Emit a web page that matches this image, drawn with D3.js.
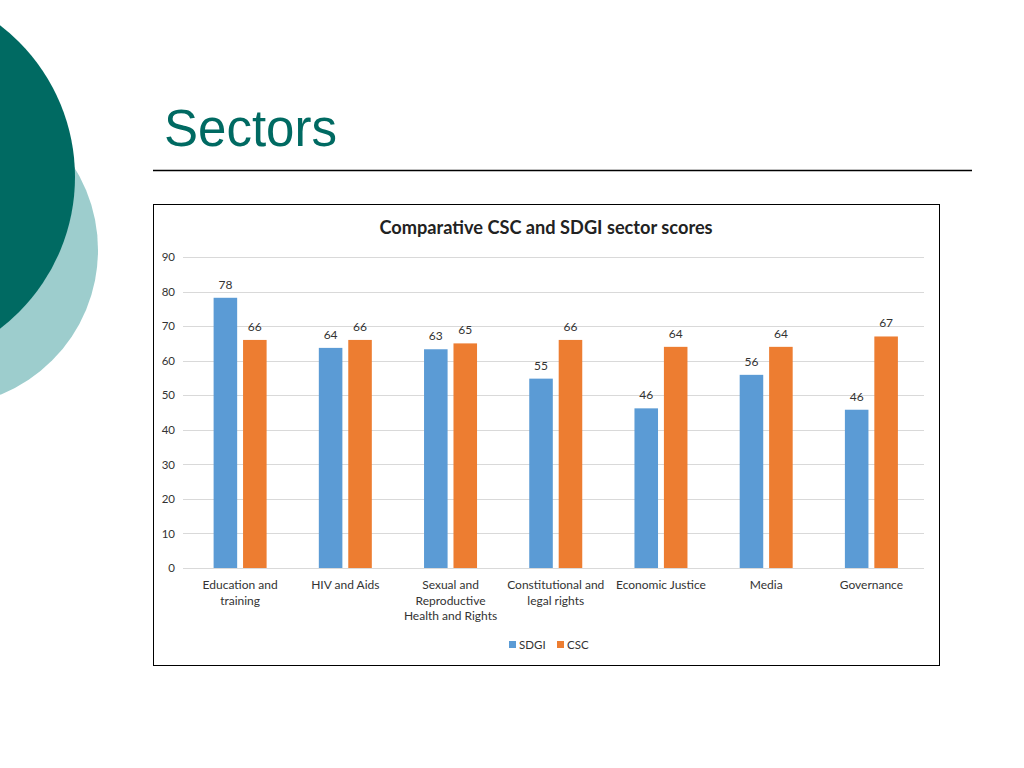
<!DOCTYPE html>
<html>
<head>
<meta charset="utf-8">
<script src="https://cdn.jsdelivr.net/npm/d3@7"></script>
<style>
  html, body { margin: 0; padding: 0; background: #fff; }
  svg { display: block; }
</style>
</head>
<body>
<svg id="c" width="1024" height="768"></svg>
<script>
const categories = [
  ["Education and", "training"],
  ["HIV and Aids"],
  ["Sexual and", "Reproductive", "Health and Rights"],
  ["Constitutional and", "legal rights"],
  ["Economic Justice"],
  ["Media"],
  ["Governance"]
];
const seriesNames = ["SDGI", "CSC"];
const sdgiValues = [78.2, 63.7, 63.3, 54.8, 46.2, 55.9, 45.8];
const cscValues  = [66, 66, 65, 66, 64, 64, 67];
const yTicks = [0, 10, 20, 30, 40, 50, 60, 70, 80, 90];
const colors = { SDGI: "#5B9BD5", CSC: "#ED7D31" };

const svg = d3.select("#c");
const font = "Lato, 'Open Sans', sans-serif";

// Decorative circles
svg.append("circle").attr("cx", -58).attr("cy", 250).attr("r", 156).attr("fill", "#9DCDCD");
svg.append("circle").attr("cx", -116).attr("cy", 177).attr("r", 191).attr("fill", "#006A62");

// Slide title
svg.append("text").attr("x", 164).attr("y", 146)
  .attr("font-family", "'Liberation Sans', Arial, sans-serif")
  .attr("font-size", 51).attr("fill", "#006A62").text("Sectors");
svg.append("line").attr("x1", 153).attr("x2", 972).attr("y1", 170.5).attr("y2", 170.5)
  .attr("stroke", "#000").attr("stroke-width", 1.5);

// Chart frame
svg.append("rect").attr("x", 153.5).attr("y", 204.5).attr("width", 786).attr("height", 461)
  .attr("fill", "#fff").attr("stroke", "#000").attr("stroke-width", 1);

svg.append("text").attr("x", 546).attr("y", 234).attr("text-anchor", "middle")
  .attr("font-family", font).attr("font-weight", "bold").attr("font-size", 18.2).attr("fill", "#222")
  .text("Comparative CSC and SDGI sector scores");

const y = d3.scaleLinear().domain([0, 90]).range([568, 257]);
const x0 = d3.scaleBand().domain(d3.range(categories.length)).range([187.5, 924]);
const x1 = d3.scaleBand().domain(seriesNames).range([-26.5, 26.5]).paddingInner(0.2);

// Gridlines
const grid = svg.append("g");
yTicks.forEach(t => {
  grid.append("line").attr("x1", 183).attr("x2", 924)
    .attr("y1", Math.round(y(t)) + 0.5).attr("y2", Math.round(y(t)) + 0.5)
    .attr("stroke", "#D9D9D9").attr("stroke-width", 1);
});

// Y axis labels
const yAxis = d3.axisLeft(y).tickValues(yTicks).tickSize(0).tickPadding(0);
const ga = svg.append("g").attr("transform", "translate(175,0)").call(yAxis);
ga.select(".domain").remove();
ga.selectAll("text").attr("font-family", font).attr("font-size", 11.5).attr("fill", "#333");

const data = categories.map((c, i) => ({ i, SDGI: sdgiValues[i], CSC: cscValues[i] }));

const groups = svg.append("g").selectAll("g").data(data).join("g")
  .attr("transform", d => `translate(${x0(d.i) + x0.bandwidth() / 2},0)`);

groups.selectAll("rect").data(d => seriesNames.map(s => ({ s, v: d[s] }))).join("rect")
  .attr("x", d => x1(d.s)).attr("width", x1.bandwidth())
  .attr("y", d => y(d.v)).attr("height", d => y(0) - y(d.v))
  .attr("fill", d => colors[d.s]);

groups.selectAll("text.v").data(d => seriesNames.map(s => ({ s, v: d[s] }))).join("text")
  .attr("class", "v")
  .attr("x", d => x1(d.s) + x1.bandwidth() / 2).attr("y", d => y(d.v) - 9)
  .attr("text-anchor", "middle").attr("font-family", font).attr("font-size", 12).attr("fill", "#333")
  .text(d => Math.round(d.v));

// Category labels
const cl = svg.append("g").selectAll("text").data(categories).join("text")
  .attr("x", (d, i) => x0(i) + x0.bandwidth() / 2).attr("y", 589)
  .attr("text-anchor", "middle").attr("font-family", font).attr("font-size", 12).attr("fill", "#333");
cl.each(function(d) {
  const t = d3.select(this);
  d.forEach((line, k) => {
    t.append("tspan").attr("x", t.attr("x")).attr("dy", k === 0 ? 0 : 15.5).text(line);
  });
});

// Legend
const legend = svg.append("g");
const legItems = [{ s: "SDGI", x: 509 }, { s: "CSC", x: 557 }];
legItems.forEach(it => {
  legend.append("rect").attr("x", it.x).attr("y", 641).attr("width", 7).attr("height", 7).attr("fill", colors[it.s]);
  legend.append("text").attr("x", it.x + 10).attr("y", 649)
    .attr("font-family", font).attr("font-size", 11.5).attr("fill", "#333").text(it.s);
});
</script>
</body>
</html>
